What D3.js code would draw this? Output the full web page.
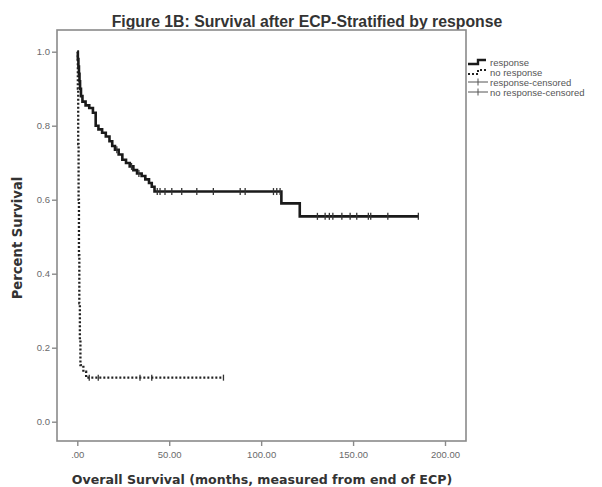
<!DOCTYPE html>
<html>
<head>
<meta charset="utf-8">
<script src="https://cdn.jsdelivr.net/npm/d3@7"></script>
<style>
  html, body { margin: 0; padding: 0; background: #fff; }
  svg { display: block; }
</style>
</head>
<body>
<svg id="chart" width="602" height="487"></svg>
<script>
// ---------- DATA ----------
const title = "Figure 1B: Survival after ECP-Stratified by response";
const xAxisTitle = "Overall Survival (months, measured from end of ECP)";
const yAxisTitle = "Percent Survival";
const xTickValues = [0, 50, 100, 150, 200];
const xTickLabels = [".00", "50.00", "100.00", "150.00", "200.00"];
const yTickValues = [0, 0.2, 0.4, 0.6, 0.8, 1.0];
const yTickLabels = ["0.0", "0.2", "0.4", "0.6", "0.8", "1.0"];
const legendLabels = ["response", "no response", "response-censored", "no response-censored"];

// Response group: event times (months) and survival after each event
const respTimes = [0, 0.3, 0.6, 0.9, 1.2, 1.5, 2.0, 2.8, 4.5, 6.5, 8.5, 10, 11.5, 13.5, 15.5, 17.5, 19, 20.5, 22.5, 24.5, 26.5, 28.5, 30.5, 32.5, 35, 37, 39, 40.5, 42, 111, 121];
const respSurv  = [1.0, 0.98, 0.96, 0.94, 0.92, 0.90, 0.88, 0.865, 0.855, 0.848, 0.835, 0.80, 0.79, 0.781, 0.771, 0.758, 0.745, 0.735, 0.722, 0.708, 0.699, 0.690, 0.680, 0.671, 0.664, 0.655, 0.645, 0.635, 0.622, 0.590, 0.555];
const respEnd = 185.5;
const respCensored = [21.5, 29.5, 33.5, 43.5, 45, 47.7, 51.4, 56.8, 65, 74, 88.6, 91.3, 106.7, 108.5, 110.3, 130.6, 134.8, 137.1, 139, 143.9, 148.4, 152, 158.3, 159.6, 168.9, 185.5];

// No-response group
const noRespTimes = [0, 0.3, 0.5, 0.7, 0.9, 1.1, 1.4, 1.7, 3.3, 4.8];
const noRespSurv  = [1.0, 0.90, 0.75, 0.60, 0.45, 0.32, 0.22, 0.153, 0.135, 0.119];
const noRespEnd = 79.5;
const noRespCensored = [6.5, 11.4, 34.1, 40.5, 79.5];

// ---------- LAYOUT ----------
const svg = d3.select("#chart");
const frame = { left: 57, right: 466, top: 30, bottom: 441 };
const x = d3.scaleLinear().domain([0, 200]).range([77.3, 445]);
const y = d3.scaleLinear().domain([0, 1]).range([421.7, 51.7]);
const greyText = "#6a6a6a";
const axisGrey = "#8a8a8a";

// Title
svg.append("text")
  .attr("x", 307).attr("y", 27)
  .attr("text-anchor", "middle")
  .attr("font-family", "Liberation Sans, Arial, sans-serif")
  .attr("font-weight", "bold")
  .attr("font-size", 15.8)
  .attr("fill", "#333")
  .text(title);

// Frame
svg.append("rect")
  .attr("x", frame.left).attr("y", frame.top)
  .attr("width", frame.right - frame.left)
  .attr("height", frame.bottom - frame.top)
  .attr("fill", "none")
  .attr("stroke", axisGrey)
  .attr("stroke-width", 1.6);

// Y axis
const yAxis = d3.axisLeft(y)
  .tickValues(yTickValues)
  .tickFormat((d, i) => yTickLabels[i])
  .tickSize(5).tickSizeOuter(0);
const gy = svg.append("g").attr("transform", `translate(${frame.left},0)`).call(yAxis);
gy.select(".domain").remove();
gy.selectAll(".tick line").attr("stroke", axisGrey).attr("stroke-width", 1.4);
gy.selectAll(".tick text")
  .attr("fill", greyText)
  .attr("font-family", "Liberation Sans, Arial, sans-serif")
  .attr("font-size", 9.5)
  .attr("x", -7);

// X axis
const xAxis = d3.axisBottom(x)
  .tickValues(xTickValues)
  .tickFormat((d, i) => xTickLabels[i])
  .tickSize(5).tickSizeOuter(0);
const gx = svg.append("g").attr("transform", `translate(0,${frame.bottom})`).call(xAxis);
gx.select(".domain").remove();
gx.selectAll(".tick line").attr("stroke", axisGrey).attr("stroke-width", 1.4);
gx.selectAll(".tick text")
  .attr("fill", greyText)
  .attr("font-family", "Liberation Sans, Arial, sans-serif")
  .attr("font-size", 9.5)
  .attr("y", 10);

// Axis titles
svg.append("text")
  .attr("x", 262).attr("y", 484)
  .attr("text-anchor", "middle")
  .attr("font-family", "DejaVu Sans, Verdana, sans-serif")
  .attr("font-weight", "bold")
  .attr("font-size", 12.6)
  .attr("fill", "#333")
  .text(xAxisTitle);

svg.append("text")
  .attr("transform", "translate(22,238) rotate(-90)")
  .attr("text-anchor", "middle")
  .attr("font-family", "DejaVu Sans, Verdana, sans-serif")
  .attr("font-weight", "bold")
  .attr("font-size", 13.2)
  .attr("fill", "#333")
  .text(yAxisTitle);

// ---------- CURVES ----------
function stepPoints(times, surv, end) {
  const pts = times.map((t, i) => [t, surv[i]]);
  pts.push([end, surv[surv.length - 1]]);
  return pts;
}
function survAt(times, surv, t) {
  let s = surv[0];
  for (let i = 0; i < times.length; i++) if (times[i] <= t) s = surv[i];
  return s;
}
const line = d3.line().x(d => x(d[0])).y(d => y(d[1])).curve(d3.curveStepAfter);

// No response (dotted)
svg.append("path")
  .datum(stepPoints(noRespTimes, noRespSurv, noRespEnd))
  .attr("d", line)
  .attr("fill", "none")
  .attr("stroke", "#222")
  .attr("stroke-width", 2.3)
  .attr("stroke-dasharray", "2,2");

// Response (solid)
svg.append("path")
  .datum(stepPoints(respTimes, respSurv, respEnd))
  .attr("d", line)
  .attr("fill", "none")
  .attr("stroke", "#1a1a1a")
  .attr("stroke-width", 2.6);

// Censor marks
svg.append("g").selectAll("line")
  .data(respCensored)
  .join("line")
  .attr("x1", d => x(d)).attr("x2", d => x(d))
  .attr("y1", d => y(survAt(respTimes, respSurv, d)) - 3.5)
  .attr("y2", d => y(survAt(respTimes, respSurv, d)) + 3.5)
  .attr("stroke", "#333").attr("stroke-width", 1.3);

svg.append("g").selectAll("line")
  .data(noRespCensored)
  .join("line")
  .attr("x1", d => x(d)).attr("x2", d => x(d))
  .attr("y1", d => y(survAt(noRespTimes, noRespSurv, d)) - 3)
  .attr("y2", d => y(survAt(noRespTimes, noRespSurv, d)) + 3)
  .attr("stroke", "#333").attr("stroke-width", 1.3);

// ---------- LEGEND ----------
const legend = svg.append("g").attr("transform", "translate(468,0)");
const rowsY = [62, 72, 82, 92];
// response symbol
legend.append("path")
  .attr("d", `M0,${rowsY[0] + 2} H10 V${rowsY[0] - 2} H18`)
  .attr("fill", "none").attr("stroke", "#1a1a1a").attr("stroke-width", 2.4);
// no response symbol
legend.append("path")
  .attr("d", `M0,${rowsY[1] + 2} H10 V${rowsY[1] - 2} H18`)
  .attr("fill", "none").attr("stroke", "#222").attr("stroke-width", 2)
  .attr("stroke-dasharray", "2,2");
// censored symbols
[2, 3].forEach(i => {
  legend.append("line")
    .attr("x1", 0).attr("x2", 20).attr("y1", rowsY[i]).attr("y2", rowsY[i])
    .attr("stroke", "#555").attr("stroke-width", 1);
  legend.append("line")
    .attr("x1", 10).attr("x2", 10).attr("y1", rowsY[i] - 3.5).attr("y2", rowsY[i] + 3.5)
    .attr("stroke", "#555").attr("stroke-width", 1);
});
legend.selectAll("text.lg")
  .data(legendLabels)
  .join("text")
  .attr("class", "lg")
  .attr("x", 22)
  .attr("y", (d, i) => rowsY[i] + 3.5)
  .attr("font-family", "Liberation Sans, Arial, sans-serif")
  .attr("font-size", 9.5)
  .attr("fill", "#555")
  .text(d => d);
</script>
</body>
</html>
